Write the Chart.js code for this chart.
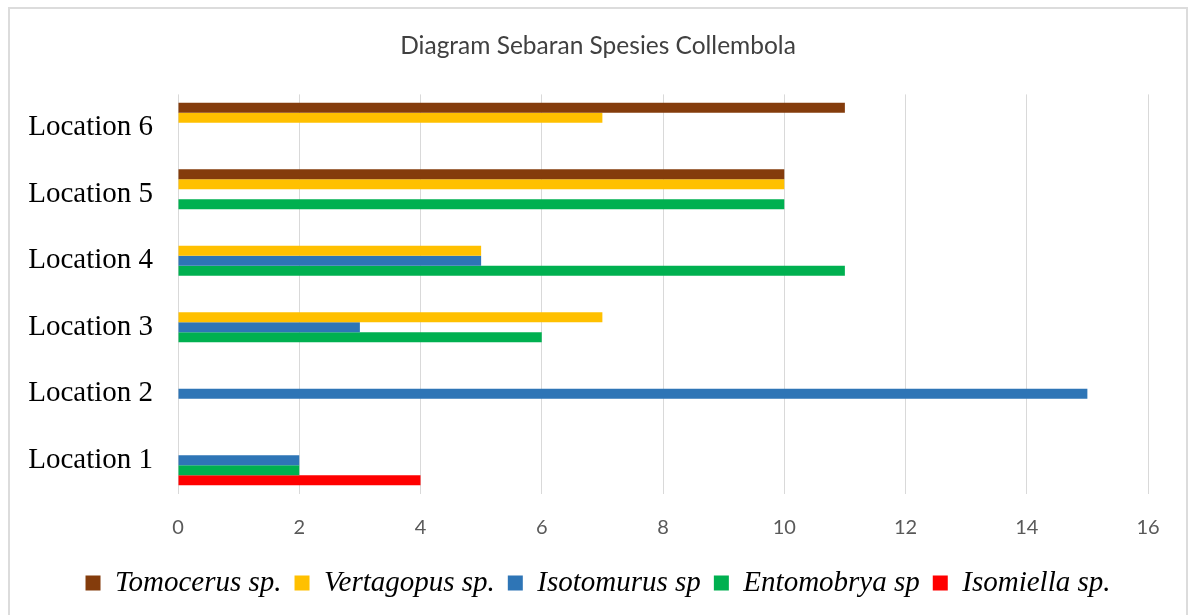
<!DOCTYPE html>
<html>
<head>
<meta charset="utf-8">
<script src="https://cdn.jsdelivr.net/npm/chart.js@4/dist/chart.umd.min.js"></script>
<style>
  html, body { margin: 0; padding: 0; background: #ffffff; overflow: hidden; }
  #c { position: absolute; left: 0; top: 0; }
  #frame { position: absolute; left: 8px; top: 7px; width: 1180px; height: 700px;
           border: 2px solid #dcdcdc; box-sizing: border-box; pointer-events: none; }
</style>
</head>
<body>
<canvas id="c" width="1190" height="615"></canvas>
<div id="frame"></div>
<script>
// ---- data (top to bottom as displayed) ----
const categories = ['Location 6', 'Location 5', 'Location 4', 'Location 3', 'Location 2', 'Location 1'];
const seriesNames = ['Tomocerus sp.', 'Vertagopus sp.', 'Isotomurus sp', 'Entomobrya sp', 'Isomiella sp.'];
const tomocerus  = [11, 10, null, null, null, null];
const vertagopus = [7, 10, 5, 7, null, null];
const isotomurus = [null, null, 5, 3, 15, 2];
const entomobrya = [null, 10, 11, 6, null, 2];
const isomiella  = [null, null, null, null, null, 4];
const xTicks = [0, 2, 4, 6, 8, 10, 12, 14, 16];
const titleText = 'Diagram Sebaran Spesies Collembola';

const seriesValues = [tomocerus, vertagopus, isotomurus, entomobrya, isomiella];
const seriesColors = ['#843C0C', '#FFC000', '#2E75B6', '#00B050', '#FF0000'];

const datasets = seriesNames.map((name, i) => ({
  label: name,
  data: seriesValues[i],
  backgroundColor: seriesColors[i],
  borderWidth: 0,
  categoryPercentage: 0.75,
  barPercentage: 1.0
}));

new Chart(document.getElementById('c'), {
  type: 'bar',
  data: { labels: categories, datasets: datasets },
  options: {
    indexAxis: 'y',
    responsive: false,
    animation: false,
    layout: { padding: { left: 20, right: 14, top: 0, bottom: 7.5 } },
    scales: {
      x: {
        min: xTicks[0],
        max: xTicks[xTicks.length - 1],
        afterBuildTicks: (scale) => { scale.ticks = xTicks.map(v => ({ value: v })); },
        grid: { color: '#d9d9d9', lineWidth: 1, drawTicks: false },
        border: { display: false },
        ticks: {
          padding: 22,
          color: '#595959',
          font: { family: 'Lato, Carlito, "Liberation Sans", sans-serif', size: 20 }
        },
        afterFit: (scale) => { scale.height -= 6; }
      },
      y: {
        grid: { display: false, drawTicks: false },
        border: { display: false },
        ticks: {
          padding: 25,
          color: '#000000',
          font: { family: '"Liberation Serif", "Times New Roman", serif', size: 29 }
        },
        afterFit: (scale) => { scale.width = 158; }
      },
      yRightSpace: {
        type: 'category',
        position: 'right',
        display: true,
        grid: { display: false, drawTicks: false },
        border: { display: false },
        ticks: { display: false },
        afterFit: (scale) => { scale.width = 28; }
      }
    },
    plugins: {
      title: {
        display: true,
        text: titleText,
        color: '#404040',
        font: { family: 'Lato, Carlito, "Liberation Sans", sans-serif', size: 24.5, weight: 'normal' },
        padding: { top: 31.5, bottom: 33.5 }
      },
      legend: {
        position: 'bottom',
        align: 'center',
        labels: {
          boxWidth: 15,
          boxHeight: 15,
          padding: 13,
          color: '#000000',
          font: { family: '"Liberation Serif", "Times New Roman", serif', size: 29, style: 'italic' }
        }
      },
      tooltip: { enabled: false }
    }
  }
});
</script>
</body>
</html>
